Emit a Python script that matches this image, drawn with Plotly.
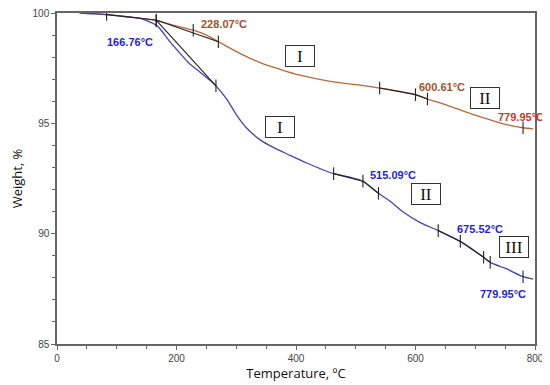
import plotly.graph_objects as go

# ---- data ----
brown_T = [38, 83, 120, 166, 194, 228, 250, 270, 306, 340, 373, 407, 457, 507, 540, 570, 600, 620, 650, 691, 720, 741, 760, 780, 797]
brown_W = [100.0, 99.93, 99.82, 99.66, 99.45, 99.22, 99.0, 98.7, 98.17, 97.75, 97.45, 97.18, 96.9, 96.73, 96.6, 96.47, 96.3, 96.1, 95.85, 95.45, 95.2, 95.02, 94.9, 94.8, 94.75]

blue_T = [38, 83, 120, 139, 155, 166, 172, 189, 206, 222, 239, 256, 266, 284, 300, 317, 340, 361, 390, 420, 440, 463, 490, 512, 538, 557, 580, 608, 638, 675, 714, 725, 753, 780, 797]
blue_W = [100.0, 99.93, 99.82, 99.76, 99.6, 99.45, 99.3, 98.7, 98.17, 97.7, 97.33, 96.95, 96.7, 96.1, 95.4, 94.8, 94.25, 93.92, 93.55, 93.18, 92.95, 92.72, 92.56, 92.38, 91.83, 91.48, 90.97, 90.5, 90.14, 89.65, 88.93, 88.7, 88.4, 88.05, 87.94]

# tangent construction segments (onset analysis)
tan_T = [[83, 166], [166, 270], [166, 266], [540, 600, 620], [463, 512, 538], [638, 675, 714, 725]]
tan_W = [[99.93, 99.68], [99.68, 98.7], [99.68, 96.7], [96.6, 96.3, 96.1], [92.72, 92.38, 91.83], [90.14, 89.65, 88.93, 88.7]]

mark_T = [83, 166, 166, 228, 270, 266, 540, 600, 620, 780, 463, 512, 538, 638, 675, 714, 725, 780]
mark_W = [99.93, 99.68, 99.64, 99.22, 98.7, 96.7, 96.6, 96.3, 96.1, 94.8, 92.72, 92.38, 91.83, 90.14, 89.65, 88.93, 88.7, 88.05]

temp_labels = ["228.07°C", "166.76°C", "600.61°C", "779.95°C", "515.09°C", "675.52°C", "779.95°C"]
temp_label_T = [279, 123, 645, 776, 562, 708, 746]
temp_label_W = [99.5, 98.68, 96.64, 95.27, 92.68, 90.23, 87.27]
temp_label_col = ["#a0522d", "#1f1fcf", "#a0522d", "#c8372d", "#1f1fcf", "#1f1fcf", "#1f1fcf"]

stage_labels = ["I", "I", "II", "II", "III"]
stage_T = [407, 374, 717, 618, 765]
stage_W = [98.05, 94.82, 96.14, 91.78, 89.39]

x_ticks = [0, 200, 400, 600, 800]
y_ticks = [85, 90, 95, 100]

fig = go.Figure()
fig.add_trace(go.Scatter(x=brown_T, y=brown_W, mode="lines", line=dict(color="#b5693c", width=1.3, shape="spline", smoothing=0.8), showlegend=False))
fig.add_trace(go.Scatter(x=blue_T, y=blue_W, mode="lines", line=dict(color="#4444a8", width=1.3, shape="spline", smoothing=0.8), showlegend=False))
for tx, ty in zip(tan_T, tan_W):
    fig.add_trace(go.Scatter(x=tx, y=ty, mode="lines", line=dict(color="#222222", width=1.1), showlegend=False))
fig.add_trace(go.Scatter(x=mark_T, y=mark_W, mode="markers",
                         marker=dict(symbol="line-ns-open", size=9, color="#222222", line=dict(color="#222222", width=1.1)),
                         showlegend=False))

for t, x, y, c in zip(temp_labels, temp_label_T, temp_label_W, temp_label_col):
    fig.add_annotation(x=x, y=y, text="<b>%s</b>" % t, showarrow=False,
                       font=dict(family="Liberation Sans, Arial", size=11, color=c))
for t, x, y in zip(stage_labels, stage_T, stage_W):
    fig.add_annotation(x=x, y=y, text=t, showarrow=False, width=26, height=18,
                       bordercolor="#333333", borderwidth=1, borderpad=1, bgcolor="white",
                       font=dict(family="Liberation Serif, Times New Roman", size=17, color="#111111"))

axis_common = dict(showline=True, linecolor="#666666", linewidth=1.5, mirror=True,
                   ticks="outside", ticklen=4, tickcolor="#666666", tickwidth=1,
                   showgrid=False, zeroline=False, automargin=False, ticklabeloverflow="allow",
                   tickfont=dict(family="Liberation Sans, Arial", size=10, color="#444444"))

fig.update_xaxes(range=[0, 800], tickvals=x_ticks, **axis_common,
                 minor=dict(ticks="outside", ticklen=3, dtick=50, tickcolor="#666666"),
                 title=dict(text="Temperature, ºC", font=dict(family="Open Sans", size=13, color="#111111"), standoff=5))
fig.update_yaxes(range=[85, 100], tickvals=y_ticks, **axis_common,
                 minor=dict(ticks="outside", ticklen=3, dtick=1, tickcolor="#666666"),
                 title=dict(text="Weight, %", font=dict(family="Open Sans", size=13, color="#111111"), standoff=16))

# page body has an 8px margin, so the figure is sized to fit inside the 550x385 window
fig.update_layout(width=542, height=377, margin=dict(l=49, r=15, t=5, b=41),
                  plot_bgcolor="white", paper_bgcolor="white")
fig.write_html("out.html")
